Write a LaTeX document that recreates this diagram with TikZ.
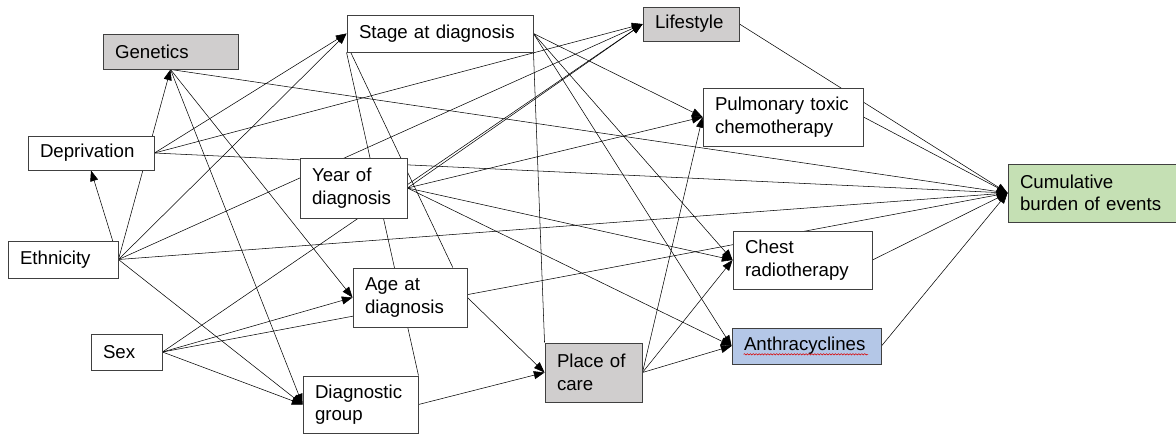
\documentclass[tikz,border=0pt]{standalone}
\usepackage{fontspec}
\setmainfont{Liberation Sans}
\usetikzlibrary{arrows.meta,backgrounds,decorations.pathmorphing}
\definecolor{linegray}{RGB}{64,64,64}
\definecolor{boxgray}{RGB}{208,206,206}
\definecolor{boxgreen}{RGB}{197,224,180}
\definecolor{boxblue}{RGB}{180,199,231}

\begin{document}
\begin{tikzpicture}[x=0.75pt, y=-0.75pt,
    box/.style 2 args={draw=linegray, fill=white, line width=0.7pt,
      inner xsep=9pt, inner ysep=0pt, text width=#1*0.75pt-18pt,
      minimum height=#2*0.75pt, align=left,
      font=\fontsize{14pt}{16.8pt}\selectfont},
    >={Triangle[length=8pt, width=6pt, color=black]}]
    \useasboundingbox (0, 0) rectangle (1176, 436);

    \node [box={135}{35}, fill=boxgray] (0) at (170.5, 51.5) {Genetics};
    \node [box={186}{37}] (1) at (440, 33.5) {Stage at diagnosis};
    \node [box={96}{34}, fill=boxgray] (2) at (691, 24) {Lifestyle};
    \node [box={126}{34}] (3) at (91, 153) {Deprivation};
    \node [box={107}{60}] (4) at (353.5, 188) {Year of\\diagnosis};
    \node [box={160}{58}] (5) at (783, 117) {Pulmonary toxic\\chemotherapy};
    \node [box={172}{58}, fill=boxgreen] (6) at (1094, 193) {Cumulative\\burden of events};

    \node [box={110}{37}] (7) at (63, 259.5) {Ethnicity};
    \node [box={71}{36}] (8) at (126.5, 352) {Sex};
    \node [box={114}{59}] (9) at (410, 297.5) {Age at\\diagnosis};
    \node [box={115}{57}] (10) at (360.5, 404.5) {Diagnostic\\group};
    \node [box={97}{59}, fill=boxgray] (11) at (593.5, 372.5) {Place of\\care};
    \node [box={139}{58}] (12) at (802.5, 260) {Chest\\radiotherapy};
    \node [box={149}{36}, fill=boxblue] (13) at (806.5, 346) {Anthracyclines};
    \draw [red!85!black, line width=0.4pt, decorate,
      decoration={snake, amplitude=0.5pt, segment length=2.2pt}]
      ([xshift=9pt, yshift=-2.6pt]13.base west) -- ([xshift=-10pt, yshift=-2.6pt]13.base east);

    \begin{scope}[on background layer, draw=linegray, line width=0.7pt]
    \draw [->] (7.east) to (0.south);
    \draw [->] (7.east) to (3.south);
    \draw [->] (7.east) to (1.west);
    \draw [->] (7.east) to (2.west);
    \draw [->] (7.east) to (6.west);
    \draw [->] (7.east) to (10.west);

    \draw [->] (3.east) to (1.west);
    \draw [->] (3.east) to (2.west);
    \draw [->] (3.east) to (6.west);

    \draw [->] (0.south) to (9.west);
    \draw [->] (0.south) to (10.west);
    \draw [->] (0.south) to (6.west);

    \draw [->] (8.east) to (2.west);
    \draw [->] (8.east) to (9.west);
    \draw [->] (8.east) to (6.west);
    \draw [->] (8.east) to (10.west);

    \draw [->] (4.east) to (2.west);
    \draw [->] (4.east) to (5.west);
    \draw [->] (4.east) to (12.west);
    \draw [->] (4.east) to (13.west);

    \draw [->] (1.east) to (5.west);
    \draw [->] (1.east) to (12.west);
    \draw [->] (1.east) to (13.west);
    \draw (1.south east) to (11.north west);
    \draw (1.192) to (9.35);
    \draw (1.south west) to (10.north east);

    \draw [->] (9.east) to (11.west);
    \draw [->] (10.east) to (11.west);

    \draw [->] (11.east) to (5.west);
    \draw [->] (11.east) to (12.west);
    \draw [->] (11.east) to (13.west);

    \draw [->] (2.east) to (6.west);
    \draw [->] (5.east) to (6.west);
    \draw [->] (12.east) to (6.west);
    \draw [->] (13.east) to (6.west);
    \end{scope}

  \end{tikzpicture}
\end{document}
